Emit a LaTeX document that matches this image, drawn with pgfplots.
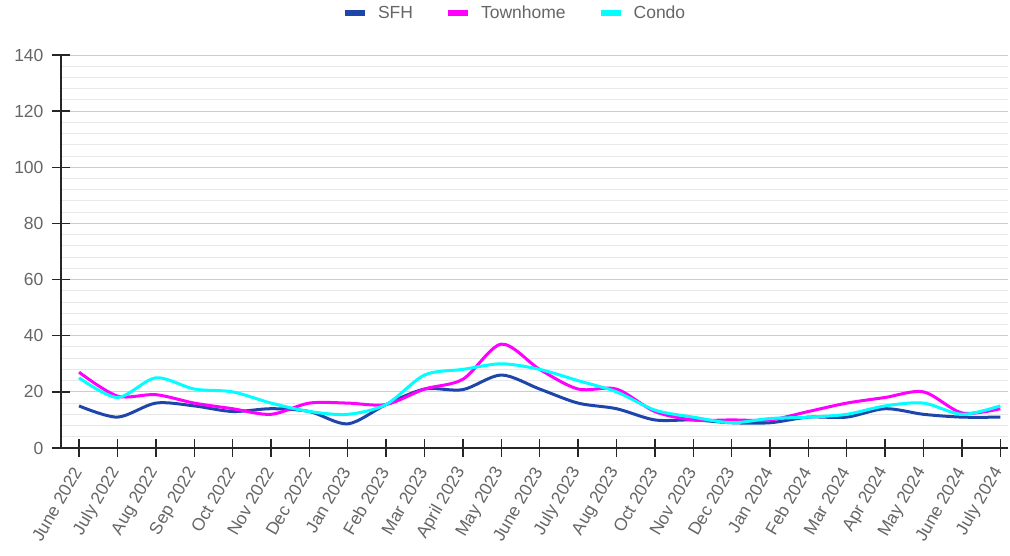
\documentclass[border=0pt]{standalone}
\usepackage{pgfplots}
\pgfplotsset{compat=1.18}
\usepackage{fontspec}
\setmainfont{Liberation Sans}
\definecolor{sfh}{RGB}{30,70,170}
\definecolor{town}{RGB}{255,0,255}
\definecolor{condo}{RGB}{0,255,255}
\definecolor{tickgray}{RGB}{102,102,102}

\begin{document}
\begin{tikzpicture}
\begin{axis}[
  scale only axis, width=947pt, height=393pt,
  xmin=-0.47, xmax=24.2, ymin=0, ymax=140,
  axis x line*=bottom, axis y line*=left,
  axis line style={line width=1.4pt, black!85},
  ytick={0,20,...,140}, minor ytick={0,4,...,140},
  ymajorgrids, yminorgrids,
  major grid style={line width=1pt, black!20},
  minor grid style={line width=1pt, black!9},
  tick align=center, major tick length=18pt, minor tick length=0pt,
  tick style={line width=1.4pt, black!85},
  xtick={0,...,24},
  xticklabels={June 2022, July 2022, Aug 2022, Sep 2022, Oct 2022, Nov 2022, Dec 2022, Jan 2023, Feb 2023, Mar 2023, April 2023, May 2023, June 2023, July 2023, Aug 2023, Oct 2023, Nov 2023, Dec 2023, Jan 2024, Feb 2024, Mar 2024, Apr 2024, May 2024, June 2024, July 2024},
  xticklabel style={yshift=-9pt, rotate=60, anchor=east, font=\fontsize{17.5}{20}\selectfont, text=tickgray},
  yticklabel style={xshift=-5pt, font=\fontsize{17.5}{20}\selectfont, text=tickgray},
  /pgf/number format/assume math mode=true,
  legend columns=-1,
  legend style={draw=none, at={(0.479,1.107)}, anchor=center, font=\fontsize{17.5}{20}\selectfont, text=tickgray,
    /tikz/every even column/.append style={column sep=30pt},
    /tikz/every odd column/.append style={column sep=8pt}},
  legend image code/.code={\draw[#1, line width=6pt] (0pt,0pt) -- (20pt,0pt);},
  every axis plot/.append style={smooth, tension=0.5, no markers, line width=3pt},
]
\addplot[sfh] coordinates {(0,15) (1,11) (2,16) (3,15) (4,13) (5,14) (6,13) (7,8.6) (8,15.5) (9,21) (10,20.8) (11,26) (12,21) (13,16) (14,14) (15,10) (16,10) (17,9) (18,9) (19,11) (20,11) (21,14) (22,12) (23,11) (24,11)};
\addlegendentry{SFH}
\addplot[town] coordinates {(0,27) (1,18.5) (2,19) (3,16) (4,14) (5,12) (6,16) (7,16) (8,15.5) (9,21) (10,24.5) (11,37) (12,28) (13,21) (14,21) (15,13) (16,10) (17,10) (18,10) (19,13) (20,16) (21,18) (22,20) (23,12.5) (24,14)};
\addlegendentry{Townhome}
\addplot[condo] coordinates {(0,25) (1,18) (2,25) (3,21) (4,20) (5,16) (6,13) (7,12) (8,15.5) (9,26) (10,28) (11,30) (12,28) (13,24) (14,20) (15,13.5) (16,11) (17,9) (18,10.5) (19,11) (20,12) (21,15) (22,16) (23,12) (24,15)};
\addlegendentry{Condo}
\end{axis}
\pgfresetboundingbox
\path[use as bounding box] (-61pt,-107pt) rectangle (949pt,448pt);
\end{tikzpicture}
\end{document}
